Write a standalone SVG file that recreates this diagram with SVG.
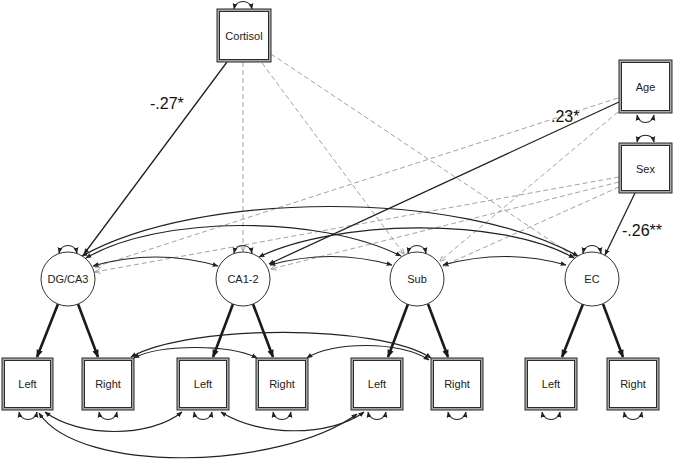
<svg xmlns="http://www.w3.org/2000/svg" width="674" height="459" viewBox="0 0 674 459">
<defs>
<style>
.bo{fill:#a8a8a8;stroke:#2a2a2a;stroke-width:1}
.bi{fill:#fff;stroke:#2a2a2a;stroke-width:1}
.lat{fill:#fff;stroke:#333;stroke-width:1}
.t{font-family:"Liberation Sans",Arial,sans-serif;font-size:11px;fill:#222;text-anchor:middle;dominant-baseline:central}
.lbl{font-family:"Liberation Sans",Arial,sans-serif;font-size:16px;fill:#111}
.sol{stroke:#222;stroke-width:1.3;fill:none;marker-end:url(#ah)}
.cov{stroke:#222;stroke-width:1.2;fill:none;marker-start:url(#ah);marker-end:url(#ah)}
.dsh{stroke:#8a8a8a;stroke-width:0.8;stroke-dasharray:5 3;fill:none;marker-end:url(#ad)}
.load{stroke:#1a1a1a;stroke-width:2.6;fill:none;marker-end:url(#al)}
</style>
<marker id="ah" viewBox="0 0 10 10" refX="9" refY="5" markerWidth="6" markerHeight="6" markerUnits="userSpaceOnUse" orient="auto-start-reverse"><path d="M0,1 L10,5 L0,9 z" fill="#222"/></marker>
<marker id="al" viewBox="0 0 10 10" refX="9" refY="5" markerWidth="8" markerHeight="8" markerUnits="userSpaceOnUse" orient="auto"><path d="M0,1 L10,5 L0,9 z" fill="#1a1a1a"/></marker>
<marker id="ad" viewBox="0 0 10 10" refX="9" refY="5" markerWidth="6" markerHeight="6" markerUnits="userSpaceOnUse" orient="auto"><path d="M0,1 L10,5 L0,9" fill="none" stroke="#888" stroke-width="1.2"/></marker>
</defs>
<rect width="674" height="459" fill="#fff"/>
<g id="connectors">
<!-- dashed regressions -->
<path class="dsh" d="M243,62 L243,251"/>
<path class="dsh" d="M262,63 L404,254"/>
<path class="dsh" d="M271,54 L575,257"/>
<path class="dsh" d="M618,98 L95,267"/>
<path class="dsh" d="M618,112 L440,261"/>
<path class="dsh" d="M619,177 L95,272"/>
<path class="dsh" d="M619,182 L271,269"/>
<path class="dsh" d="M619,187 L443,266"/>
<!-- solid regressions -->
<path class="sol" d="M227,62 L84,254"/>
<path class="sol" d="M619,102 L269,264"/>
<path class="sol" d="M635,193 L605,255"/>
<!-- latent covariances -->
<path class="cov" d="M93,266 Q156,248 218,266"/>
<path class="cov" d="M270,265 Q331,248 392,265"/>
<path class="cov" d="M443,265 Q505,248 566,265"/>
<path class="cov" d="M86,258 C160,215 320,215 401,256"/>
<path class="cov" d="M82,256 C200,190 460,190 578,256"/>
<path class="cov" d="M259,257 C335,220 500,216 574,258"/>
<!-- loadings -->
<path class="load" d="M58,304 L37,357"/>
<path class="load" d="M78,304 L98,357"/>
<path class="load" d="M233,304 L213,357"/>
<path class="load" d="M253,304 L273,357"/>
<path class="load" d="M408,304 L388,357"/>
<path class="load" d="M428,304 L448,357"/>
<path class="load" d="M583,304 L562,357"/>
<path class="load" d="M603,304 L623,357"/>
<!-- residual covariances -->
<path class="cov" d="M134,358 C160,344 230,344 257,358"/>
<path class="cov" d="M131,357 C190,324 380,324 431,358"/>
<path class="cov" d="M307,358 C330,342 400,340 429,360"/>
<path class="cov" d="M45,412 C80,438 150,438 182,412"/>
<path class="cov" d="M39,413 C80,475 280,470 357,414"/>
<path class="cov" d="M221,412 C260,437 330,437 364,412"/>
<!-- self loops -->
<path class="cov" d="M234,9 C236,-1 250,-1 252,9"/>
<path class="cov" d="M637,115 C639,125 652,125 654,115"/>
<path class="cov" d="M637,142 C639,133 652,133 654,142"/>
<path class="cov" d="M59,253 C61,243 75,243 77,253"/>
<path class="cov" d="M234,253 C236,243 250,243 252,253"/>
<path class="cov" d="M408,253 C410,243 424,243 426,253"/>
<path class="cov" d="M583,253 C585,243 599,243 601,253"/>
<path class="cov" d="M19,412 C21,422 35,422 37,412"/>
<path class="cov" d="M99,412 C101,422 115,422 117,412"/>
<path class="cov" d="M194,412 C196,422 210,422 212,412"/>
<path class="cov" d="M273,412 C275,422 289,422 291,412"/>
<path class="cov" d="M368,412 C370,422 384,422 386,412"/>
<path class="cov" d="M448,412 C450,422 464,422 466,412"/>
<path class="cov" d="M542,412 C544,422 558,422 560,412"/>
<path class="cov" d="M624,412 C626,422 640,422 642,412"/>
</g>
<g id="labels">
<text class="lbl" x="150" y="109">-.27*</text>
<text class="lbl" x="551" y="122">.23*</text>
<text class="lbl" x="622" y="236">-.26**</text>
</g>
<g id="cortisol"><rect class="bo" x="217" y="9" width="54" height="53"/><rect class="bi" x="219.5" y="11.5" width="49" height="48"/><text class="t" x="244" y="36">Cortisol</text></g>
<g id="age"><rect class="bo" x="619" y="60" width="53" height="53"/><rect class="bi" x="621.5" y="62.5" width="48" height="48"/><text class="t" x="645.5" y="87">Age</text></g>
<g id="sex"><rect class="bo" x="619" y="143" width="53" height="50"/><rect class="bi" x="621.5" y="145.5" width="48" height="45"/><text class="t" x="645.5" y="169">Sex</text></g>
<g id="dgca3"><circle class="lat" cx="68" cy="279" r="27"/><text class="t" x="68" y="279">DG/CA3</text></g>
<g id="ca12"><circle class="lat" cx="243" cy="279" r="27"/><text class="t" x="243" y="279">CA1-2</text></g>
<g id="sub"><circle class="lat" cx="417" cy="279" r="27"/><text class="t" x="417" y="279">Sub</text></g>
<g id="ec"><circle class="lat" cx="592" cy="279" r="27"/><text class="t" x="592" y="279">EC</text></g>
<g id="dg-left"><rect class="bo" x="2" y="358" width="51" height="52"/><rect class="bi" x="4.5" y="360.5" width="46" height="47"/><text class="t" x="27.5" y="384">Left</text></g>
<g id="dg-right"><rect class="bo" x="82" y="358" width="52" height="52"/><rect class="bi" x="84.5" y="360.5" width="47" height="47"/><text class="t" x="108" y="384">Right</text></g>
<g id="ca-left"><rect class="bo" x="177" y="358" width="52" height="52"/><rect class="bi" x="179.5" y="360.5" width="47" height="47"/><text class="t" x="203" y="384">Left</text></g>
<g id="ca-right"><rect class="bo" x="256" y="358" width="52" height="52"/><rect class="bi" x="258.5" y="360.5" width="47" height="47"/><text class="t" x="282" y="384">Right</text></g>
<g id="sub-left"><rect class="bo" x="351" y="358" width="52" height="52"/><rect class="bi" x="353.5" y="360.5" width="47" height="47"/><text class="t" x="377" y="384">Left</text></g>
<g id="sub-right"><rect class="bo" x="431" y="358" width="52" height="52"/><rect class="bi" x="433.5" y="360.5" width="47" height="47"/><text class="t" x="457" y="384">Right</text></g>
<g id="ec-left"><rect class="bo" x="525" y="358" width="52" height="52"/><rect class="bi" x="527.5" y="360.5" width="47" height="47"/><text class="t" x="551" y="384">Left</text></g>
<g id="ec-right"><rect class="bo" x="607" y="358" width="52" height="52"/><rect class="bi" x="609.5" y="360.5" width="47" height="47"/><text class="t" x="633" y="384">Right</text></g>
</svg>
